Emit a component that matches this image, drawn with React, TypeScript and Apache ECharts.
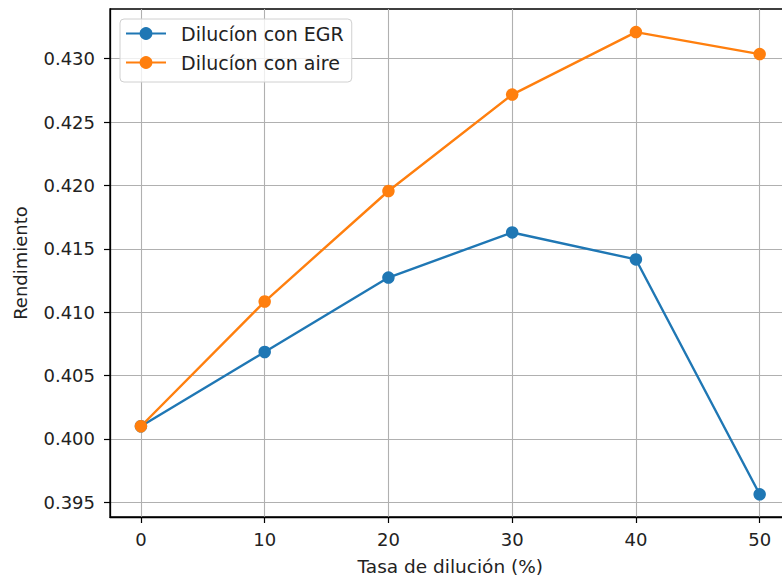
import React, { useEffect, useRef } from "react";
import * as echarts from "echarts";

const dilution = [0, 10, 20, 30, 40, 50];
const egr = [0.401, 0.40686, 0.41273, 0.41629, 0.41416, 0.39563];
const aire = [0.401, 0.41084, 0.41956, 0.42717, 0.4321, 0.43036];
const xTicks = [0, 10, 20, 30, 40, 50];
const yTicks = [0.395, 0.4, 0.405, 0.41, 0.415, 0.42, 0.425, 0.43];
const seriesNames = ["Dilucíon con EGR", "Dilucíon con aire"];
const colors = ["#1f77b4", "#ff7f0e"];

export default function App() {
  const ref = useRef<HTMLDivElement>(null);
  useEffect(() => {
    if (!ref.current) return;
    const chart = echarts.init(ref.current, undefined, { renderer: "svg" });
    const font = "DejaVu Sans";
    chart.setOption({
      animation: false,
      backgroundColor: "#ffffff",
      textStyle: { fontFamily: font },
      grid: {
        left: 110,
        top: 9,
        width: 680.6,
        height: 508,
        show: true,
        borderColor: "#000",
        borderWidth: 1.3,
        containLabel: false,
        outerBoundsMode: "none",
      },
      legend: {
        left: 120,
        top: 19,
        orient: "vertical",
        itemWidth: 40,
        itemHeight: 16,
        itemGap: 10,
        padding: [5, 8, 10, 5],
        backgroundColor: "rgba(255,255,255,0.8)",
        borderColor: "#d0d0d0",
        borderWidth: 1,
        borderRadius: 4,
        textStyle: { fontFamily: font, fontSize: 19, color: "#222", padding: [0, 0, 0, 10] },
        data: seriesNames,
      },
      xAxis: {
        type: "value",
        min: -2.5,
        max: 52.5,
        name: "Tasa de dilución (%)",
        nameLocation: "middle",
        nameGap: 40,
        nameTextStyle: { fontFamily: font, fontSize: 18.5, color: "#222" },
        axisLine: { show: true, onZero: false, lineStyle: { color: "#000", width: 1.3 } },
        axisTick: { show: true, length: 6, lineStyle: { color: "#000", width: 1.2 }, customValues: xTicks },
        axisLabel: { fontFamily: font, fontSize: 18, color: "#222", margin: 13, customValues: xTicks },
        splitLine: { show: true, lineStyle: { color: "#b0b0b0", width: 1.1 } },
      },
      yAxis: {
        type: "value",
        min: 0.39384,
        max: 0.43392,
        name: "Rendimiento",
        nameLocation: "middle",
        nameGap: 81,
        nameTextStyle: { fontFamily: font, fontSize: 18, color: "#222" },
        axisLine: { show: true, onZero: false, lineStyle: { color: "#000", width: 1.3 } },
        axisTick: { show: true, length: 6, lineStyle: { color: "#000", width: 1.2 }, customValues: yTicks },
        axisLabel: {
          fontFamily: font,
          fontSize: 18,
          color: "#222",
          margin: 15,
          customValues: yTicks,
          formatter: (v: number) => v.toFixed(3),
        },
        splitLine: { show: true, lineStyle: { color: "#b0b0b0", width: 1.1 } },
      },
      series: [
        {
          name: seriesNames[0],
          type: "line",
          data: dilution.map((x, i) => [x, egr[i]]),
          symbol: "circle",
          symbolSize: 12.5,
          color: colors[0],
          lineStyle: { width: 2.4, color: colors[0] },
          itemStyle: { color: colors[0] },
        },
        {
          name: seriesNames[1],
          type: "line",
          data: dilution.map((x, i) => [x, aire[i]]),
          symbol: "circle",
          symbolSize: 12.5,
          color: colors[1],
          lineStyle: { width: 2.4, color: colors[1] },
          itemStyle: { color: colors[1] },
        },
      ],
    });
    return () => chart.dispose();
  }, []);
  return (
    <div style={{ position: "fixed", left: 0, top: 0, width: 782, height: 578, overflow: "hidden", background: "#fff" }}>
      <div ref={ref} style={{ width: 800, height: 578 }} />
    </div>
  );
}
